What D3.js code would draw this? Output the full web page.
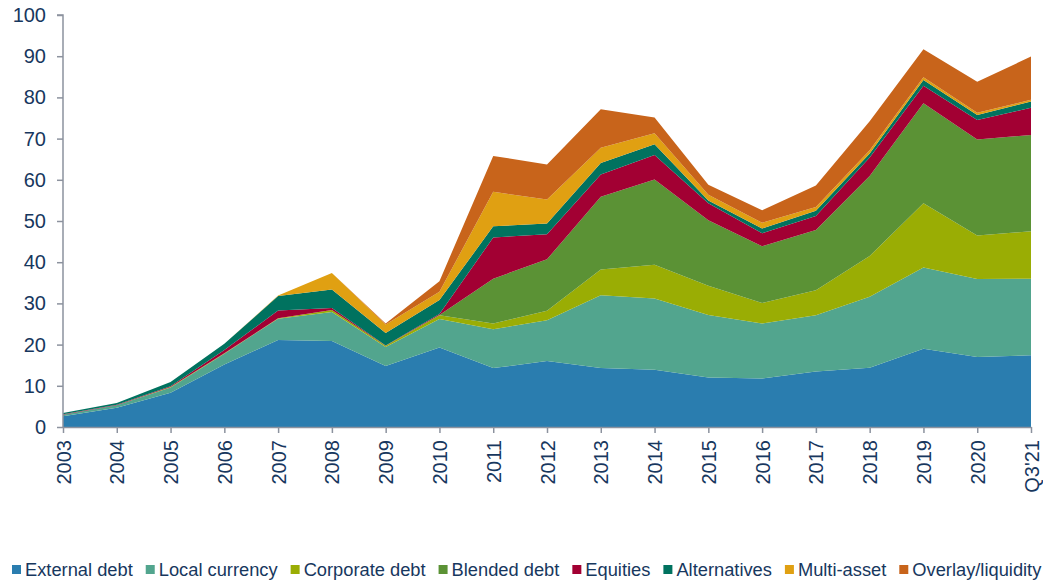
<!DOCTYPE html>
<html>
<head>
<meta charset="utf-8">
<script src="https://cdn.jsdelivr.net/npm/d3@7"></script>
<style>
    body { margin: 0; background: #fff; }
    text { font-family: Arial, "Liberation Sans", sans-serif; fill: #17375e; }
</style>
</head>
<body>
<svg id="chart"></svg>
<script>
// Data (USD bn)
const years = ["2003", "2004", "2005", "2006", "2007", "2008", "2009", "2010", "2011", "2012",
    "2013", "2014", "2015", "2016", "2017", "2018", "2019", "2020", "Q3'21"];

const externalDebt = [2.6, 4.7, 8.3, 15.2, 21.1, 20.9, 14.8, 19.3, 14.3, 16.0, 14.3, 13.9, 12.0, 11.8, 13.5, 14.4, 19.0, 17.0, 17.4];
const localCurrency = [0.4, 0.6, 1.3, 2.6, 5.2, 7.0, 4.6, 6.9, 9.4, 9.9, 17.7, 17.3, 15.2, 13.3, 13.6, 17.2, 19.7, 18.9, 18.6];
const corporateDebt = [0, 0, 0.1, 0.1, 0.1, 0.5, 0.3, 0.9, 1.4, 2.3, 6.2, 8.2, 7.1, 5.0, 6.1, 9.9, 15.6, 10.6, 11.5];
const blendedDebt = [0, 0, 0, 0, 0, 0, 0, 0.1, 10.9, 12.5, 17.7, 20.7, 15.9, 13.8, 14.6, 19.4, 24.3, 23.3, 23.4];
const equities = [0.1, 0.1, 0.2, 0.8, 1.9, 0.5, 0.1, 0.2, 10.0, 6.1, 5.4, 5.9, 4.1, 3.1, 3.4, 4.5, 4.2, 4.7, 6.6];
const alternatives = [0.3, 0.4, 1.0, 1.5, 3.5, 4.5, 3.0, 3.4, 2.7, 2.6, 2.8, 2.6, 0.7, 1.2, 1.3, 1.0, 1.4, 1.2, 1.5];
const multiAsset = [0, 0, 0, 0, 0.1, 4.0, 2.1, 2.0, 8.4, 5.8, 3.7, 2.7, 1.4, 1.4, 0.9, 0.8, 0.7, 0.6, 0.4];
const overlay = [0, 0, 0, 0, 0, 0, 0.2, 2.6, 8.7, 8.5, 9.3, 3.8, 2.4, 3.0, 5.2, 7.0, 6.8, 7.5, 10.5];

const seriesNames = ["External debt", "Local currency", "Corporate debt", "Blended debt",
    "Equities", "Alternatives", "Multi-asset", "Overlay/liquidity"];
const seriesValues = [externalDebt, localCurrency, corporateDebt, blendedDebt,
    equities, alternatives, multiAsset, overlay];
const colors = ["#2a7daf", "#52a58e", "#9aad04", "#5b9235", "#a20033", "#00725f", "#e0a012", "#c8641b"];

const yTicks = [0, 10, 20, 30, 40, 50, 60, 70, 80, 90, 100];

const width = 1043;
const height = 581;

const svg = d3.select("#chart")
    .attr("width", width)
    .attr("height", height);

// plot area edges
const plotLeft = 63, plotRight = 1031, plotTop = 15, plotBottom = 427;

// rows for d3.stack
const rows = years.map((y, i) => {
    const row = { year: y };
    seriesNames.forEach((name, s) => row[name] = seriesValues[s][i]);
    return row;
});

const stacked = d3.stack().keys(seriesNames)(rows);

const xScale = d3.scalePoint()
    .domain(years)
    .range([plotLeft, plotRight]);

const yScale = d3.scaleLinear()
    .domain([0, 100])
    .range([plotBottom, plotTop]);

const area = d3.area()
    .x(d => xScale(d.data.year))
    .y0(d => yScale(d[0]))
    .y1(d => yScale(d[1]));

svg.append("g")
    .selectAll("path")
    .data(stacked)
    .enter()
    .append("path")
    .attr("d", area)
    .attr("fill", (d, i) => colors[i]);

// axes
const axisColor = "#8c929e";

const yAxis = d3.axisLeft(yScale)
    .tickValues(yTicks)
    .tickSize(6)
    .tickPadding(11);

const yAxisGroup = svg.append("g")
    .attr("transform", `translate(${plotLeft}, 0)`)
    .call(yAxis);

const xAxis = d3.axisBottom(xScale)
    .tickSize(6)
    .tickSizeOuter(0);

const xAxisGroup = svg.append("g")
    .attr("transform", `translate(0, ${plotBottom})`)
    .call(xAxis);

[yAxisGroup, xAxisGroup].forEach(g => {
    g.select(".domain").attr("stroke", axisColor).attr("stroke-width", 1.5);
    g.selectAll(".tick line").attr("stroke", axisColor).attr("stroke-width", 1.5);
    g.selectAll("text")
        .style("font-size", "20px")
        .attr("fill", "#17375e");
});

// y domain line without the outer tick at the bottom
yAxisGroup.select(".domain").attr("d", `M-6,${plotTop}H0V${plotBottom}`);

xAxisGroup.selectAll("text")
    .attr("transform", "rotate(-90)")
    .attr("text-anchor", "end")
    .attr("x", -13)
    .attr("y", 0)
    .attr("dy", "0.35em");

// legend
const legend = svg.append("g")
    .attr("transform", "translate(12, 570)");

let lx = 0;
seriesNames.forEach((name, i) => {
    legend.append("rect")
        .attr("x", lx)
        .attr("y", -5)
        .attr("width", 9)
        .attr("height", 9)
        .attr("fill", colors[i]);
    const t = legend.append("text")
        .attr("x", lx + 13)
        .attr("y", 0)
        .attr("dy", "0.35em")
        .style("font-size", "18.3px")
        .text(name);
    lx += 13 + t.node().getComputedTextLength() + 13;
});
</script>
</body>
</html>
